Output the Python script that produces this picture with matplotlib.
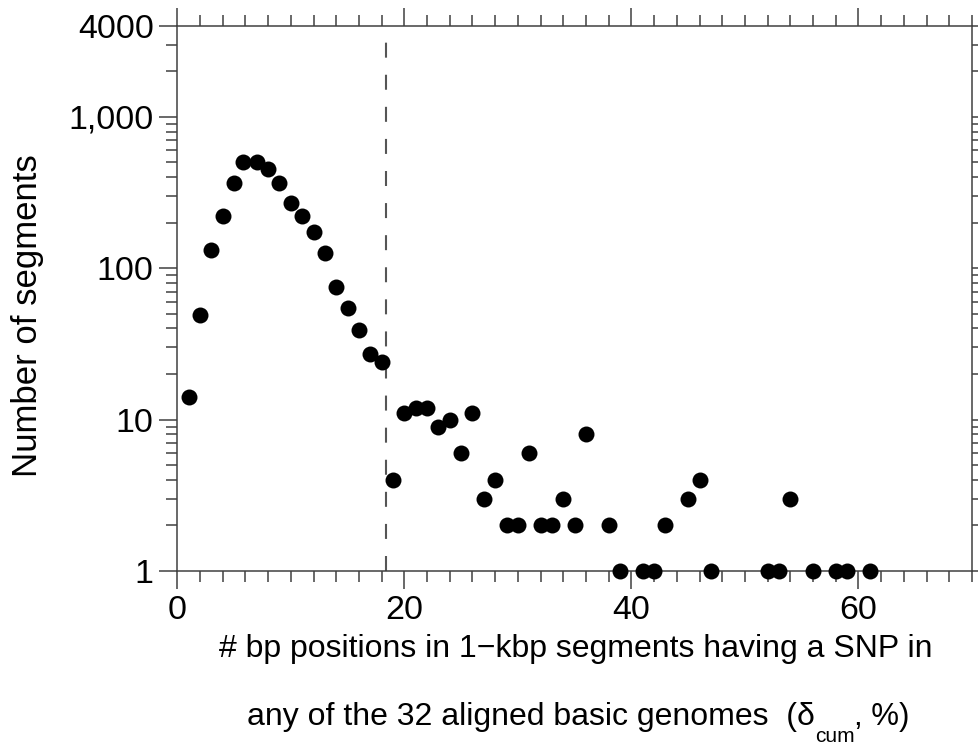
import matplotlib
matplotlib.use('Agg')
import matplotlib.pyplot as plt
from matplotlib.ticker import FixedLocator, FixedFormatter, NullFormatter

plt.rcParams['font.family'] = ['Liberation Sans', 'DejaVu Sans']

# ---- data ----
delta_cum = [1, 2, 3, 4, 5, 5.8, 7, 8, 9, 10, 11, 12, 13, 14, 15, 16, 17, 18,
             19, 20, 21, 22, 23, 24, 25, 26, 27, 28, 29, 30, 31, 32, 33, 34, 35, 36,
             38, 39, 41, 42, 43, 45, 46, 47, 52, 53, 54, 56, 58, 59, 61]
n_segments = [14, 49, 132, 220, 367, 506, 506, 451, 367, 269, 220, 174, 127, 75, 55, 39, 27, 24,
              4, 11, 12, 12, 9, 10, 6, 11, 3, 4, 2, 2, 6, 2, 2, 3, 2, 8,
              2, 1, 1, 1, 2, 3, 4, 1, 1, 1, 3, 1, 1, 1, 1]
threshold = 18.35

x_major = [0, 20, 40, 60]
x_major_labels = ['0', '20', '40', '60']
x_minor = [v for v in range(2, 71, 2) if v not in x_major]
y_major = [1, 10, 100, 1000, 4000]
y_major_labels = ['1', '10', '100', '1,000', '4000']
y_minor = [m * 10 ** k for k in range(0, 3) for m in range(2, 10)] + [2000, 3000]

xlabel_line1 = '# bp positions in 1\u2212kbp segments having a SNP in'
xlabel_line2 = 'any of the 32 aligned basic genomes  (\u03b4'
xlabel_sub = 'cum'
xlabel_tail = ', %)'
ylabel = 'Number of segments'

W, H = 979, 747
fig = plt.figure(figsize=(W / 100, H / 100), dpi=100)
ax = fig.add_axes([177.3 / W, 1 - 571 / H, (972 - 177.3) / W, (571 - 25.7) / H])
ax.set_yscale('log')
ax.set_xlim(0, 70)
ax.set_ylim(1, 4000)

ax.plot(delta_cum, n_segments, 'o', color='black', ms=11.5, mew=0,
        clip_on=False, zorder=3)
ax.axvline(threshold, color='#555555', lw=1.5, dashes=(7.2, 8.2), zorder=1)

ax.xaxis.set_major_locator(FixedLocator(x_major))
ax.xaxis.set_major_formatter(FixedFormatter(x_major_labels))
ax.xaxis.set_minor_locator(FixedLocator(x_minor))
ax.xaxis.set_minor_formatter(NullFormatter())
ax.yaxis.set_major_locator(FixedLocator(y_major))
ax.yaxis.set_major_formatter(FixedFormatter(y_major_labels))
ax.yaxis.set_minor_locator(FixedLocator(y_minor))
ax.yaxis.set_minor_formatter(NullFormatter())

spine_c = '#404040'
for s in ax.spines.values():
    s.set_color(spine_c)
    s.set_linewidth(1.1)
ax.tick_params(which='both', direction='out', top=True, right=True,
               labeltop=False, labelright=False, color=spine_c, width=1.1)
ax.tick_params(which='major', length=13, labelsize=24.5, pad=4, labelcolor='black')
ax.tick_params(which='minor', length=7.8)

fig.text(28 / W, 1 - 316 / H, ylabel, rotation=90, ha='center', va='center', fontsize=25)

fig.text(576 / W, 1 - 657 / H, xlabel_line1, ha='center', va='baseline', fontsize=23)
t1 = fig.text(247 / W, 1 - 725 / H, xlabel_line2, ha='left', va='baseline', fontsize=23)
t2 = ax.annotate(xlabel_sub, xy=(1, 0), xycoords=t1, xytext=(0.5, -10),
                 textcoords='offset points', ha='left', va='bottom', fontsize=15)
ax.annotate(xlabel_tail, xy=(1, 0), xycoords=t2, xytext=(-0.5, 10),
            textcoords='offset points', ha='left', va='bottom', fontsize=22.5)

fig.savefig('out.png', dpi=100)
